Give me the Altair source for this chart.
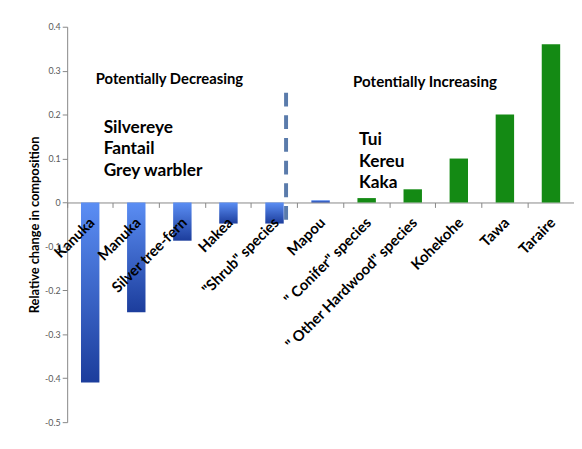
import altair as alt
import pandas as pd

# ---- data ----
species = [
    "Kanuka", "Manuka", "Silver tree-fern", "Hakea", '"Shrub" species',
    "Mapou", '" Conifer" species', '" Other Hardwood"  species',
    "Kohekohe", "Tawa", "Taraire",
]
change = [-0.41, -0.25, -0.087, -0.048, -0.048, 0.005, 0.01, 0.03, 0.10, 0.20, 0.36]
trend = ["decreasing"] * 6 + ["increasing"] * 5

y_ticks = [0.4, 0.3, 0.2, 0.1, 0.0, -0.1, -0.2, -0.3, -0.4, -0.5]
y_domain = [-0.5, 0.4]

decreasing_birds = ["Silvereye", "Fantail", "Grey warbler"]
increasing_birds = ["Tui", "Kereu", "Kaka"]

df = pd.DataFrame({"species": species, "change": change, "trend": trend})
one = pd.DataFrame({"k": [0]})

W, H = 514, 401
zero_offset = -H * (0 - y_domain[0]) / (y_domain[1] - y_domain[0])

FONT = "Lato"
AXIS_GREY = "#868686"

x_enc = alt.X(
    "species:N", sort=species,
    scale=alt.Scale(paddingInner=0, paddingOuter=0),
    axis=alt.Axis(labels=False, title=None, offset=zero_offset, bandPosition=0,
                  tickSize=5, domainColor=AXIS_GREY, tickColor=AXIS_GREY, grid=False),
)
y_enc = alt.Y(
    "change:Q",
    scale=alt.Scale(domain=y_domain, nice=False, zero=False),
    axis=alt.Axis(
        values=y_ticks,
        labelExpr="datum.value == 0 ? '0' : replace(format(datum.value, '.1f'), '\u2212', '-')",
        title="Relative change in composition",
        titleX=-33, titleY=H / 2, titleBaseline="middle", titleAngle=270,
        titleFontWeight="bold", titleFontSize=13, titleColor="#000000",
        labelFontSize=9, labelColor="#595959", labelPadding=2,
        tickSize=5, grid=False, domainColor=AXIS_GREY, tickColor=AXIS_GREY,
    ),
)

base = alt.Chart(df).encode(x=x_enc, y=y_enc)

blue_grad = alt.Gradient(
    gradient="linear",
    stops=[alt.GradientStop(color="#5b8ef4", offset=0),
           alt.GradientStop(color="#1c3d9c", offset=1)],
    x1=0, x2=0, y1=0, y2=1,
)

blue_bars = base.transform_filter(alt.datum.trend == "decreasing").mark_bar(
    width=alt.RelativeBandSize(0.4), color=blue_grad
)
green_bars = base.transform_filter(alt.datum.trend == "increasing").mark_bar(
    width=alt.RelativeBandSize(0.4), color="#148a14"
)

labels = alt.Chart(df).mark_text(
    angle=315, align="right", baseline="middle", fontWeight="bold",
    fontSize=15, color="#000000", yOffset=18, xOffset=2, font=FONT,
).encode(
    x=alt.X("species:N", sort=species),
    y=alt.datum(0),
    text="species:N",
)

divider = alt.Chart(one).mark_rule(
    strokeDash=[14, 9], strokeWidth=4, color="#5a7bab"
).encode(x=alt.value(222), y=alt.datum(0.25), y2=alt.datum(-0.05))

title_dec = alt.Chart(one).mark_text(
    text="Potentially Decreasing", align="left", baseline="middle",
    fontWeight="bold", fontSize=15, font=FONT, color="#000000",
).encode(x=alt.value(29), y=alt.value(53))

title_inc = alt.Chart(one).mark_text(
    text="Potentially Increasing", align="left", baseline="middle",
    fontWeight="bold", fontSize=15.3, font=FONT, color="#000000",
).encode(x=alt.value(290), y=alt.value(56))

birds_dec = alt.Chart(one).mark_text(
    text=decreasing_birds, align="left", baseline="middle", lineHeight=21.5,
    fontWeight="bold", fontSize=17.5, font=FONT, color="#000000",
).encode(x=alt.value(37), y=alt.value(103))

birds_inc = alt.Chart(one).mark_text(
    text=increasing_birds, align="left", baseline="middle", lineHeight=22,
    fontWeight="bold", fontSize=17.5, font=FONT, color="#000000",
).encode(x=alt.value(296), y=alt.value(115))

chart = alt.layer(
    blue_bars, green_bars, divider, labels, title_dec, title_inc, birds_dec, birds_inc
).properties(
    width=W, height=H, autosize="none",
    padding={"left": 60, "top": 16, "right": 0, "bottom": 8},
).configure(font=FONT).configure_view(stroke=None)

chart.save("out.html", embed_options={"renderer": "svg", "actions": False})
